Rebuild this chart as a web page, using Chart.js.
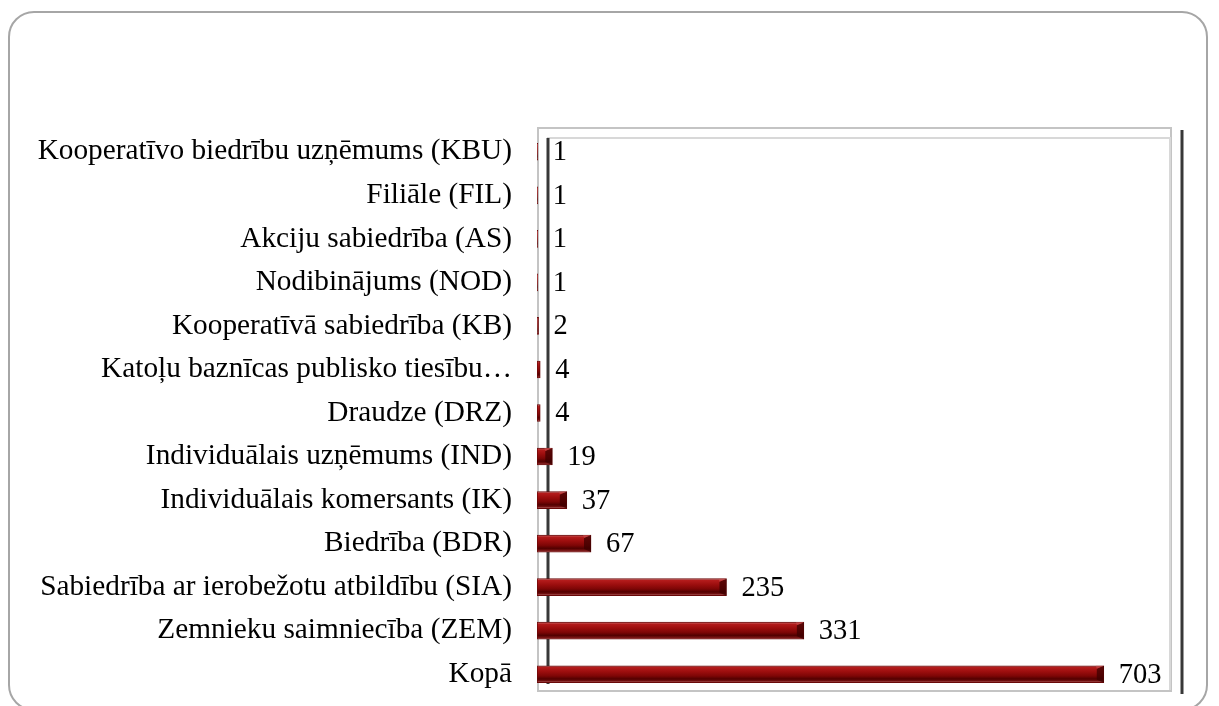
<!DOCTYPE html>
<html>
<head>
<meta charset="utf-8">
<script src="https://cdn.jsdelivr.net/npm/chart.js@4.4.1/dist/chart.umd.min.js"></script>
<style>
  html, body { margin:0; padding:0; background:#fff; width:1219px; height:706px; overflow:hidden; }
  #frame { position:absolute; left:8px; top:11px; width:1200px; height:700px; border:2px solid #a6a6a6; border-radius:26px; box-sizing:border-box; }
  #wrap { position:absolute; left:0; top:0; width:1219px; height:706px; }
</style>
</head>
<body>
<div id="frame"></div>
<div id="wrap"><canvas id="c" width="1219" height="706"></canvas></div>
<script>
const categories = [
  "Kooperatīvo biedrību uzņēmums (KBU)",
  "Filiāle (FIL)",
  "Akciju sabiedrība (AS)",
  "Nodibinājums (NOD)",
  "Kooperatīvā sabiedrība (KB)",
  "Katoļu baznīcas publisko tiesību…",
  "Draudze (DRZ)",
  "Individuālais uzņēmums (IND)",
  "Individuālais komersants (IK)",
  "Biedrība (BDR)",
  "Sabiedrība ar ierobežotu atbildību (SIA)",
  "Zemnieku saimniecība (ZEM)",
  "Kopā"
];
const values = [1, 1, 1, 1, 2, 4, 4, 19, 37, 67, 235, 331, 703];
const axisMin = 0;
const axisMax = 800;

const BAR_H = 17;
const FONT = '"Liberation Serif", "Times New Roman", serif';

function barGradient(ctx) {
  const chart = ctx.chart;
  if (!chart.chartArea || !chart.scales.y) return '#8b0000';
  const yc = chart.scales.y.getPixelForValue(ctx.dataIndex);
  const t = yc - BAR_H / 2, b = yc + BAR_H / 2;
  const g = chart.ctx.createLinearGradient(0, t, 0, b);
  g.addColorStop(0.00, '#d9a0a0');
  g.addColorStop(0.10, '#b41c1c');
  g.addColorStop(0.35, '#9c0e0e');
  g.addColorStop(0.60, '#7e0606');
  g.addColorStop(0.78, '#520000');
  g.addColorStop(0.90, '#761212');
  g.addColorStop(1.00, '#c88888');
  return g;
}

const framePlugin = {
  id: 'frame3d',
  beforeDatasetsDraw(chart) {
    const c = chart.ctx, a = chart.chartArea;
    c.save();
    c.strokeStyle = '#c4c4c4';
    c.lineWidth = 2;
    c.strokeRect(a.left + 1, a.top - 2, a.right - a.left - 12, a.bottom - a.top - 3);
    c.strokeStyle = '#d8d8d8';
    c.lineWidth = 2;
    c.beginPath();
    c.moveTo(a.left + 10, a.top + 8);
    c.lineTo(a.right - 12, a.top + 8);
    c.lineTo(a.right - 12, a.bottom - 6);
    c.stroke();
    c.strokeStyle = '#383838';
    c.lineWidth = 3;
    c.beginPath();
    c.moveTo(a.left + 11, a.top + 8);
    c.lineTo(a.left + 11, a.bottom - 12);
    c.stroke();
    c.beginPath();
    c.moveTo(a.right, a.top);
    c.lineTo(a.right, a.bottom - 2);
    c.stroke();
    c.restore();
  }
};

const endsAndLabels = {
  id: 'endsAndLabels',
  afterDatasetsDraw(chart) {
    const c = chart.ctx;
    const meta = chart.getDatasetMeta(0);
    c.save();
    meta.data.forEach((el, i) => {
      const x = el.x, y = el.y, base = el.base;
      const t = y - BAR_H / 2, b = y + BAR_H / 2;
      const w = x - base;
      if (w > 4) {
        const d = Math.min(7, w / 2);
        c.fillStyle = 'rgba(60,0,0,0.75)';
        c.beginPath();
        c.moveTo(x - d, t + 3);
        c.lineTo(x, t);
        c.lineTo(x, b);
        c.lineTo(x - d, b - 3);
        c.closePath();
        c.fill();
        c.fillStyle = 'rgba(200,80,80,0.6)';
        c.beginPath();
        c.moveTo(x - d, t + 3);
        c.lineTo(x, t);
        c.lineTo(x - d - 1, t);
        c.closePath();
        c.fill();
      }
      c.fillStyle = '#000';
      c.font = '28.5px ' + FONT;
      c.textAlign = 'left';
      c.textBaseline = 'middle';
      c.fillText(String(values[i]), x + 15, y + 1);
    });
    c.restore();
  }
};

new Chart(document.getElementById('c'), {
  type: 'bar',
  data: {
    labels: categories,
    datasets: [{
      data: values,
      backgroundColor: barGradient,
      borderColor: '#6a0808',
      borderWidth: 1,
      borderSkipped: false,
      barThickness: BAR_H
    }]
  },
  options: {
    indexAxis: 'y',
    responsive: false,
    animation: false,
    events: [],
    layout: { padding: { left: 0, right: 37, top: 130, bottom: 10 } },
    plugins: { legend: { display: false }, tooltip: { enabled: false } },
    scales: {
      x: {
        min: axisMin, max: axisMax,
        display: false,
        grid: { display: false, drawTicks: false },
        border: { display: false },
        ticks: { display: false }
      },
      y: {
        grid: { display: false, drawTicks: false },
        border: { display: false },
        ticks: {
          padding: 25,
          color: '#000',
          font: { family: FONT, size: 29.3 },
          autoSkip: false
        },
        afterFit(scale) {
          scale.width = 537;
          scale.paddingTop = 0;
          scale.paddingBottom = 0;
        }
      }
    }
  },
  plugins: [framePlugin, endsAndLabels]
});
</script>
</body>
</html>
